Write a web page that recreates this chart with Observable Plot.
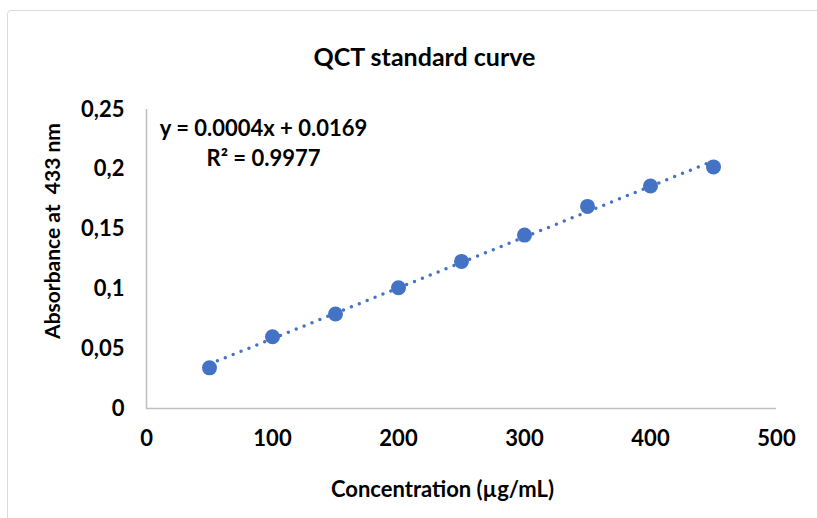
<!DOCTYPE html>
<html>
<head>
<meta charset="utf-8">
<script src="https://cdn.jsdelivr.net/npm/d3@7"></script>
<script src="https://cdn.jsdelivr.net/npm/@observablehq/plot@0.6"></script>
<style>
  html, body { margin: 0; padding: 0; background: #fff; }
  #wrap { position: relative; width: 817px; height: 518px; overflow: hidden; }
  #border { position: absolute; left: 7px; top: 10px; width: 830px; height: 520px;
            border: 1.5px solid #d9d9d9; border-radius: 4px; pointer-events: none; }
</style>
</head>
<body>
<div id="wrap"><div id="border"></div></div>
<script>
const concentrations = [50, 100, 150, 200, 250, 300, 350, 400, 450];
const absorbances = [0.034, 0.060, 0.079, 0.101, 0.123, 0.145, 0.169, 0.186, 0.202];
const xTicks = [0, 100, 200, 300, 400, 500];
const yTicks = [0, 0.05, 0.1, 0.15, 0.2, 0.25];
const titleText = "QCT standard curve";
const xLabel = "Concentration (\u00b5g/mL)";
const yLabel = "Absorbance at\u00a0 433 nm";
const equationText = "y = 0.0004x + 0.0169";
const r2Text = "R\u00b2 = 0.9977";

const data = concentrations.map((c, i) => ({c, a: absorbances[i]}));
const blue = "#4472C4";

const chart = Plot.plot({
  width: 817,
  height: 518,
  marginLeft: 146,
  marginRight: 41,
  marginTop: 109,
  marginBottom: 110,
  style: {fontFamily: "Lato, 'Open Sans', sans-serif", fontWeight: "bold", fontSize: "22px", color: "#000", background: "transparent"},
  x: {domain: [0, 500]},
  y: {domain: [0, 0.25]},
  marks: [
    Plot.ruleY([0], {stroke: "#bfbfbf", strokeWidth: 1.5}),
    Plot.ruleX([0], {stroke: "#bfbfbf", strokeWidth: 1.5}),
    Plot.axisX({ticks: xTicks, tickSize: 0, tickPadding: 22, label: null, fontSize: 22, fill: "#000"}),
    Plot.axisY({ticks: yTicks, tickSize: 0, tickPadding: 22, label: null, fontSize: 22, fill: "#000",
                tickFormat: d => String(d).replace(".", ",")}),
    Plot.linearRegressionY(data, {x: "c", y: "a", ci: 0, stroke: blue, strokeWidth: 3.5,
                                  strokeDasharray: "0 8.5", strokeLinecap: "round"}),
    Plot.dot(data, {x: "c", y: "a", r: 7.5, fill: blue, stroke: "none"}),
    Plot.text([titleText], {text: d => d, frameAnchor: "top", dx: -37, dy: -52, fontSize: 25, textAnchor: "middle", lineAnchor: "middle", fill: "#000"}),
    Plot.text([xLabel], {text: d => d, frameAnchor: "bottom", dx: -19, dy: 81, fontSize: 22, textAnchor: "middle", lineAnchor: "middle", fill: "#000"}),
    Plot.text([yLabel], {text: d => d, frameAnchor: "left", dx: -93, dy: -28, rotate: -90, fontSize: 21, textAnchor: "middle", lineAnchor: "middle", fill: "#000"}),
    Plot.text([equationText], {text: d => d, frameAnchor: "top-left", dx: 117, dy: 19, fontSize: 22, textAnchor: "middle", lineAnchor: "middle", fill: "#000"}),
    Plot.text([r2Text], {text: d => d, frameAnchor: "top-left", dx: 117, dy: 49, fontSize: 22, textAnchor: "middle", lineAnchor: "middle", fill: "#000"})
  ]
});
chart.style.position = "absolute";
chart.style.left = "0px";
chart.style.top = "0px";
document.getElementById("wrap").appendChild(chart);
</script>
</body>
</html>
